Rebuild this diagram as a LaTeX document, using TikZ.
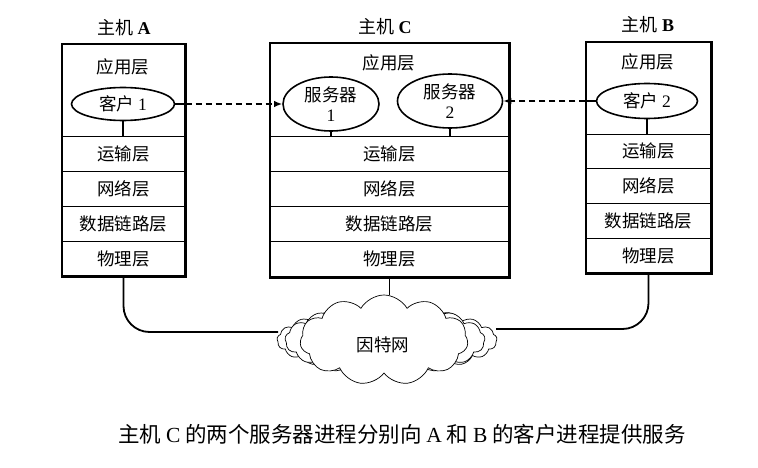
\documentclass[tikz,border=0pt]{standalone}
\usepackage{fontspec}
\setmainfont{Noto Sans CJK SC}
\newfontfamily\lat{Liberation Serif}
\usetikzlibrary{shapes.geometric,shapes.symbols,arrows.meta}
\tikzset{
  hostbox/.style={draw, line width=1.4pt, inner sep=0pt},
  band/.style={draw, line width=0.9pt, inner sep=0pt, font=\fontsize{17.5}{19}\selectfont},
  lbl/.style={inner sep=0pt, font=\fontsize{17.5}{19}\selectfont},
  ttl/.style={inner sep=0pt, font=\fontsize{18}{20}\selectfont},
  proc/.style={ellipse, draw, line width=1.6pt, fill=white, inner sep=0pt, font=\fontsize{17.5}{19}\selectfont, align=center},
  shadow/.style={line width=3pt},
  wire/.style={line width=1.8pt},
  msg/.style={line width=1.5pt, dashed, dash pattern=on 6pt off 4pt, -{Latex[length=8pt,width=6.5pt]}},
}
\begin{document}
\begin{tikzpicture}[x=1pt,y=-1pt]
\useasboundingbox (0,0) rectangle (758,468);
% ---------- Host A ----------
\node[ttl] (tA) at (124,28) {主机 {\lat\bfseries A}};
\node[hostbox, minimum width=123, minimum height=232] (A) at (123.5,160) {};
\node[lbl] (aA) at (123,67) {应用层};
\node[band, minimum width=123, minimum height=35] (A2) at (123.5,153.5) {运输层};
\node[band, minimum width=123, minimum height=35] (A3) at (123.5,188.5) {网络层};
\node[band, minimum width=123, minimum height=35] (A4) at (123.5,223.5) {数据链路层};
\node[band, minimum width=123, minimum height=35] (A5) at (123.5,258.5) {物理层};
\draw[shadow] (A.north east) -- (A.south east) -- (A.south west);
\node[proc, minimum width=103, minimum height=33] (c1) at (123,104) {客户 {\lat 1}};
\draw[line width=1.8pt] (c1.south) -- (c1.south |- A2.north);
% ---------- Host C ----------
\node[ttl] (tC) at (385,27) {主机 {\lat\bfseries C}};
\node[hostbox, minimum width=239, minimum height=234] (C) at (389.5,160) {};
\node[lbl] (aC) at (389,63) {应用层};
\node[band, minimum width=239, minimum height=35] (C2) at (389.5,153.5) {运输层};
\node[band, minimum width=239, minimum height=35] (C3) at (389.5,188.5) {网络层};
\node[band, minimum width=239, minimum height=35] (C4) at (389.5,223.5) {数据链路层};
\node[band, minimum width=239, minimum height=35] (C5) at (389.5,258.5) {物理层};
\draw[shadow] (C.north east) -- (C.south east) -- (C.south west);
\node[proc, minimum width=96, minimum height=54] (s1) at (331,104) {服务器\\[1pt]{\lat 1}};
\node[proc, minimum width=105, minimum height=54] (s2) at (450,101) {服务器\\[1pt]{\lat 2}};
\draw[line width=1.8pt] (s1.south) -- (s1.south |- C2.north);
\draw[line width=1.8pt] (s2.south) -- (s2.south |- C2.north);
% ---------- Host B ----------
\node[ttl] (tB) at (648,25) {主机 {\lat\bfseries B}};
\node[hostbox, minimum width=125, minimum height=231] (B) at (648.5,157.5) {};
\node[lbl] (aB) at (648,62) {应用层};
\node[band, minimum width=125, minimum height=34] (B2) at (648.5,151) {运输层};
\node[band, minimum width=125, minimum height=35] (B3) at (648.5,185.5) {网络层};
\node[band, minimum width=125, minimum height=35] (B4) at (648.5,220.5) {数据链路层};
\node[band, minimum width=125, minimum height=35] (B5) at (648.5,255.5) {物理层};
\draw[shadow] (B.north east) -- (B.south east) -- (B.south west);
\node[proc, minimum width=101, minimum height=35] (c2) at (647,101) {客户 {\lat 2}};
\draw[line width=1.8pt] (c2.south) -- (c2.south |- B2.north);
% ---------- messages ----------
\coordinate (aE) at (A.east |- c1.east);
\coordinate (bW) at (B.west |- c2.west);
\draw[line width=1.5pt] (c1.east) -- (aE);
\draw[line width=1.5pt] (aE) ++(0,-6) -- ++(0,12);
\draw[msg] (aE) -- (s1.west);
\draw[line width=1.5pt] (c2.west) -- (bW);
\draw[msg] (bW) -- (s2.east);
% ---------- Internet cloud ----------
\node[cloud, cloud puffs=21, cloud puff arc=110, aspect=3, draw, line width=0.7pt, fill=white,
      minimum width=220, minimum height=66] (outer) at (387,340) {};
\node[cloud, cloud puffs=17, cloud puff arc=110, aspect=2.6, draw, line width=0.7pt, fill=white,
      minimum width=200, minimum height=72] (mid) at (385,340) {};
\node[cloud, cloud puffs=11, cloud puff arc=120, aspect=1.8, draw, line width=0.7pt, fill=white,
      minimum width=168, minimum height=90] (net) at (384,340) {};
\node[lbl] (nt) at (383,345) {因特网};
\coordinate (cl) at (278,332);
\coordinate (cr) at (496,329);
\draw[wire, rounded corners=26pt] (A.south) |- (cl);
\draw[wire, rounded corners=26pt] (B.south) |- (cr);
\draw[wire] (C.south) -- (C.south |- net.north);
% ---------- caption ----------
\node[inner sep=0pt, font=\fontsize{21.5}{24}\selectfont] (cap) at (402,434)
  {主机 {\lat C} 的两个服务器进程分别向 {\lat A} 和 {\lat B} 的客户进程提供服务};
\end{tikzpicture}
\end{document}
